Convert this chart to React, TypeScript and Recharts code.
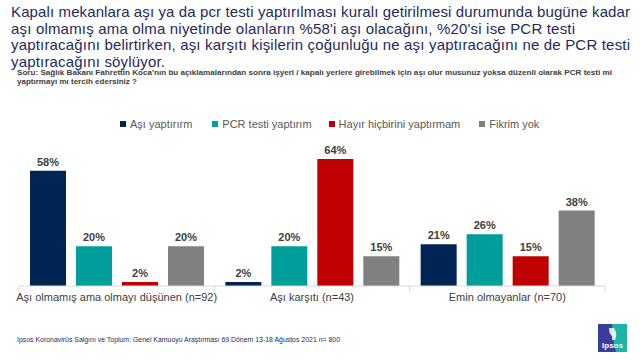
import React from "react";
import { BarChart, Bar, XAxis, YAxis, LabelList } from "recharts";

const categories = [
  "Aşı olmamış ama olmayı düşünen (n=92)",
  "Aşı karşıtı (n=43)",
  "Emin olmayanlar (n=70)",
];
const asiValues = [58, 2, 21];
const pcrValues = [20, 20, 26];
const hayirValues = [2, 64, 15];
const fikrimYokValues = [20, 15, 38];

const seriesNames = ["Aşı yaptırırm", "PCR testi yaptırım", "Hayır hiçbirini yaptırmam", "Fikrim yok"];
const seriesKeys = ["asi", "pcr", "hayir", "fikrim"];
const seriesColors = ["#002554", "#009e9a", "#c00000", "#808080"];

const titleLines = [
  "Kapalı mekanlara aşı ya da pcr testi yaptırılması kuralı getirilmesi durumunda bugüne kadar",
  "aşı olmamış ama olma niyetinde olanların %58'i aşı olacağını, %20'si ise PCR testi",
  "yaptıracağını belirtirken, aşı karşıtı kişilerin çoğunluğu ne aşı yaptıracağını ne de PCR testi",
  "yaptıracağını söylüyor.",
];
const subtitleLines = [
  "Soru: Sağlık Bakanı Fahrettin Koca'nın bu açıklamalarından  sonra işyeri  / kapalı yerlere  girebilmek için aşı olur musunuz yoksa düzenli olarak PCR testi mi",
  "yaptırmayı  mı tercih edersiniz ?",
];
const footerText = "Ipsos Koronavirüs Salgını ve Toplum: Genel Kamuoyu Araştırması 69.Dönem 13-18 Ağustos 2021   n= 800";

const data = categories.map((c, i) => ({
  name: c,
  asi: asiValues[i],
  pcr: pcrValues[i],
  hayir: hayirValues[i],
  fikrim: fikrimYokValues[i],
}));

const FONT = "'Liberation Sans', Arial, sans-serif";

const CategoryTick = (props: any) => {
  const { x, y, payload, index, visibleTicksCount } = props;
  const half = payload && typeof payload.offset === "number" && payload.offset > 0 ? payload.offset : 97.7;
  const isLast = index === (visibleTicksCount ?? 3) - 1;
  return (
    <g>
      <line x1={x - half} x2={x - half} y1={y - 8} y2={y - 2} stroke="#d9d9d9" />
      {isLast && <line x1={x + half} x2={x + half} y1={y - 8} y2={y - 2} stroke="#d9d9d9" />}
      <text x={x} y={y + 7} textAnchor="middle" fontSize={11} fill="#404040" fontFamily={FONT}>
        {payload.value}
      </text>
    </g>
  );
};

const LegendBlock = () => (
  <div
    style={{
      position: "absolute",
      top: 117,
      left: 120,
      display: "flex",
      alignItems: "center",
      fontFamily: FONT,
      fontSize: 11,
      color: "#595959",
      lineHeight: "14px",
    }}
  >
    {seriesNames.map((n, i) => (
      <div key={n} style={{ display: "flex", alignItems: "center", marginRight: i === 0 ? 20 : i === 1 ? 17 : 19 }}>
        <div style={{ width: 6, height: 6, background: seriesColors[i], marginRight: 4 }} />
        <span>{n}</span>
      </div>
    ))}
  </div>
);

export default function App() {
  return (
    <div style={{ position: "fixed", left: 0, top: 0, width: 640, height: 360, background: "#fff", fontFamily: FONT }}>
      <BarChart
        width={640}
        height={360}
        data={data}
        margin={{ top: 147, right: 35, left: 19, bottom: 44 }}
        barGap={10}
      >
        <XAxis
          dataKey="name"
          height={30}
          axisLine={{ stroke: "#d9d9d9" }}
          tickLine={false}
          interval={0}
          tick={<CategoryTick />}
        />
        <YAxis hide domain={[0, 70]} />
        {seriesKeys.map((k, i) => (
          <Bar key={k} dataKey={k} name={seriesNames[i]} fill={seriesColors[i]} barSize={36} isAnimationActive={false}>
            <LabelList
              dataKey={k}
              position="top"
              offset={5}
              formatter={(v: any) => `${v}%`}
              style={{ fill: "#404040", fontSize: 11, fontWeight: 700, fontFamily: FONT }}
            />
          </Bar>
        ))}
      </BarChart>
      <LegendBlock />
      <svg width={640} height={360} style={{ position: "absolute", left: 0, top: 0, pointerEvents: "none" }}>
        {titleLines.map((t, i) => (
          <text
            key={i}
            x={11}
            y={17 + i * 16.6}
            fontSize={15}
            fill="#1f2a5e"
            fontFamily={FONT}
            textLength={[619, 564, 619, 154][i]}
            lengthAdjust="spacing"
          >
            {t}
          </text>
        ))}
        {subtitleLines.map((t, i) => (
          <text
            key={i}
            x={17}
            y={75 + i * 8.5}
            fontSize={7}
            fontWeight={700}
            fill="#404040"
            fontFamily={FONT}
            textLength={[595, 120][i]}
            lengthAdjust="spacingAndGlyphs"
          >
            {t}
          </text>
        ))}
        <text x={17} y={342} fontSize={7} fill="#1f2a5e" fontFamily={FONT} textLength={323} lengthAdjust="spacingAndGlyphs">
          {footerText}
        </text>
        <g>
          <rect x={598} y={324} width={29} height={28} fill="#3b3d9a" />
          <path d="M612 324 L627 324 L627 352 L616 352 Q612 338 612 324 Z" fill="#1fb3a6" />
          <path d="M609 328 Q609 334 612 336 L612 340 L615 340 Q618 334 614 328 Z" fill="#ffffff" opacity={0.85} />
          <text x={612.5} y={348} fontSize={8} fontWeight={700} fill="#ffffff" textAnchor="middle" fontFamily={FONT}>
            Ipsos
          </text>
        </g>
      </svg>
    </div>
  );
}
